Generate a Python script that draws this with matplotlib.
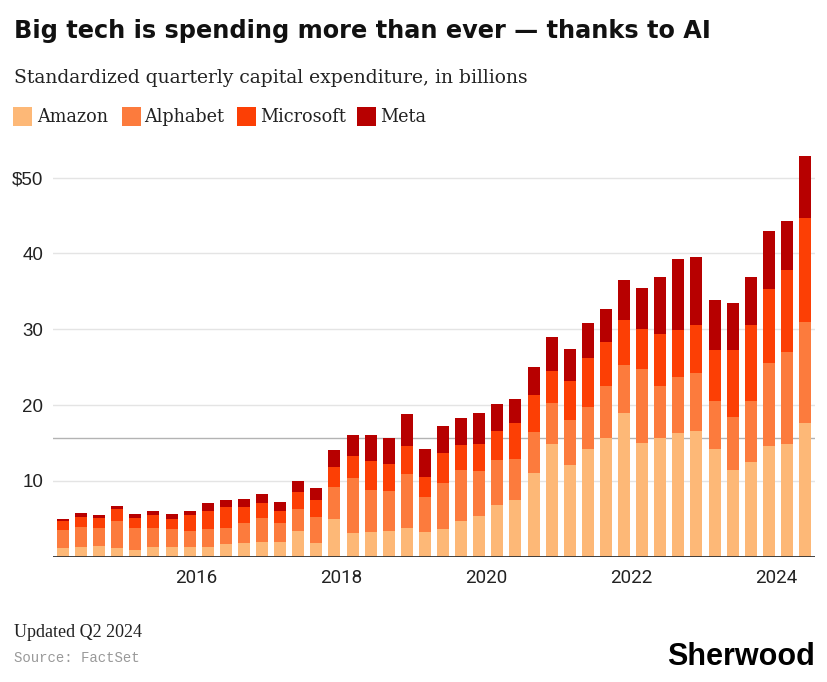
import numpy as np
import matplotlib.pyplot as plt
from matplotlib.patches import Rectangle

# quarters Q1 2014 .. Q2 2024
years = [y for y in range(2014, 2025) for q in range(4)][:42]
quarters = [q for y in range(2014, 2025) for q in range(1, 5)][:42]

# standardized quarterly capex, $bn
amazon = [1.1, 1.3, 1.45, 1.2, 0.9, 1.3, 1.3, 1.3, 1.3, 1.7,
          1.8, 2.0, 1.9, 3.4, 1.75, 5.0, 3.15, 3.25, 3.4, 3.8,
          3.3, 3.6, 4.7, 5.35, 6.8, 7.5, 11.1, 14.8, 12.1, 14.25,
          15.7, 18.95, 15.0, 15.7, 16.35, 16.6, 14.25, 11.5, 12.55, 14.65,
          14.9, 17.6]
alphabet = [2.4, 2.65, 2.4, 3.55, 2.9, 2.5, 2.3, 2.1, 2.4, 2.15,
            2.6, 3.15, 2.5, 2.85, 3.5, 4.2, 7.25, 5.55, 5.3, 7.05,
            4.6, 6.1, 6.7, 6.0, 6.0, 5.4, 5.4, 5.5, 5.95, 5.55,
            6.8, 6.35, 9.7, 6.8, 7.35, 7.6, 6.25, 6.9, 8.0, 10.95,
            12.05, 13.3]
microsoft = [1.2, 1.3, 1.3, 1.5, 1.3, 1.75, 1.35, 2.1, 2.3, 2.7,
             2.2, 1.95, 1.65, 2.3, 2.2, 2.65, 2.9, 3.85, 3.55, 3.7,
             2.6, 4.0, 3.35, 3.5, 3.8, 4.75, 4.85, 4.25, 5.15, 6.45,
             5.85, 5.9, 5.3, 6.9, 6.25, 6.3, 6.7, 8.9, 9.95, 9.7,
             10.9, 13.8]
meta = [0.3, 0.45, 0.4, 0.4, 0.5, 0.5, 0.7, 0.55, 1.05, 0.9,
        1.05, 1.2, 1.2, 1.4, 1.65, 2.2, 2.75, 3.45, 3.35, 4.3,
        3.75, 3.6, 3.55, 4.05, 3.5, 3.15, 3.7, 4.45, 4.15, 4.55,
        4.3, 5.35, 5.45, 7.5, 9.35, 9.0, 6.7, 6.15, 6.45, 7.7,
        6.4, 8.15]

series = ['Amazon', 'Alphabet', 'Microsoft', 'Meta']
colors = ['#fdb877', '#fc7b3d', '#fc3f05', '#b70000']
ref_level = 15.6
yticks = [10, 20, 30, 40, 50]
ytick_labels = ['10', '20', '30', '40', '$50']
xticks = [2016, 2018, 2020, 2022, 2024]

W, H = 828, 682
fig = plt.figure(figsize=(W / 100, H / 100), dpi=100)


def fx(px):
    return px / W


def fy(py):
    return 1 - py / H


ax = fig.add_axes([fx(53), fy(556.7), fx(815) - fx(53), fy(145) - fy(556.7)])

x = np.array(years) + (np.array(quarters) - 1) / 4 + 0.155
data = [amazon, alphabet, microsoft, meta]
bottom = np.zeros(len(x))
for vals, c, name in zip(data, colors, series):
    ax.bar(x, vals, width=0.166, bottom=bottom, color=c, label=name,
           linewidth=0, zorder=3)
    bottom += np.array(vals)

ax.set_xlim(2014.017, 2024.542)
ax.set_ylim(0, 54.3)

for v in yticks:
    ax.axhline(v, color='#e4e4e4', lw=1, zorder=1)
ax.axhline(ref_level, color='#b3b3b3', lw=1, zorder=2)
ax.axhline(0, color='#333333', lw=1.3, zorder=4)

for s in ax.spines.values():
    s.set_visible(False)
ax.set_yticks(yticks)
ax.set_yticklabels(ytick_labels)
ax.set_xticks(xticks)
ax.set_xticklabels([str(t) for t in xticks])
ax.tick_params(axis='both', length=0)
ax.tick_params(axis='y', pad=7, labelsize=13.5, labelcolor='#222222')
ax.tick_params(axis='x', pad=9, labelsize=13.5, labelcolor='#222222')
for lab in ax.get_yticklabels():
    lab.set_family(['Liberation Sans', 'DejaVu Sans'])
for lab in ax.get_xticklabels():
    lab.set_family(['Roboto', 'DejaVu Sans'])

# title and subtitle
fig.text(fx(14), fy(38), 'Big tech is spending more than ever \u2014 thanks to AI',
         fontsize=17.3, fontweight='bold', family=['DejaVu Sans'],
         va='baseline', ha='left', color='#111111')
fig.text(fx(14), fy(83), 'Standardized quarterly capital expenditure, in billions',
         fontsize=13.5, family=['DejaVu Serif'],
         va='baseline', ha='left', color='#222222')

# legend
sq_x = [13, 122, 237, 357]
txt_x = [37, 144, 260, 380]
for sx, tx, c, name in zip(sq_x, txt_x, colors, series):
    fig.patches.append(Rectangle((fx(sx), fy(126)), fx(19), fy(107) - fy(126),
                                 transform=fig.transFigure, color=c, lw=0))
    fig.text(fx(tx), fy(122), name, fontsize=12.7,
             family=['DejaVu Serif'],
             va='baseline', ha='left', color='#222222')

# footer
fig.text(fx(14), fy(636.7), 'Updated Q2 2024', fontsize=13,
         family=['Liberation Serif', 'DejaVu Serif'], va='baseline', color='#222222')
fig.text(fx(14), fy(661.7), 'Source: FactSet', fontsize=10.1,
         family=['Liberation Mono', 'DejaVu Sans Mono'], va='baseline', color='#999999')
fig.text(fx(815), fy(665), 'Sherwood', fontsize=22, fontweight='bold',
         family=['Liberation Sans', 'DejaVu Sans'], va='baseline', ha='right',
         color='#000000')

fig.savefig('out.png', dpi=100)
